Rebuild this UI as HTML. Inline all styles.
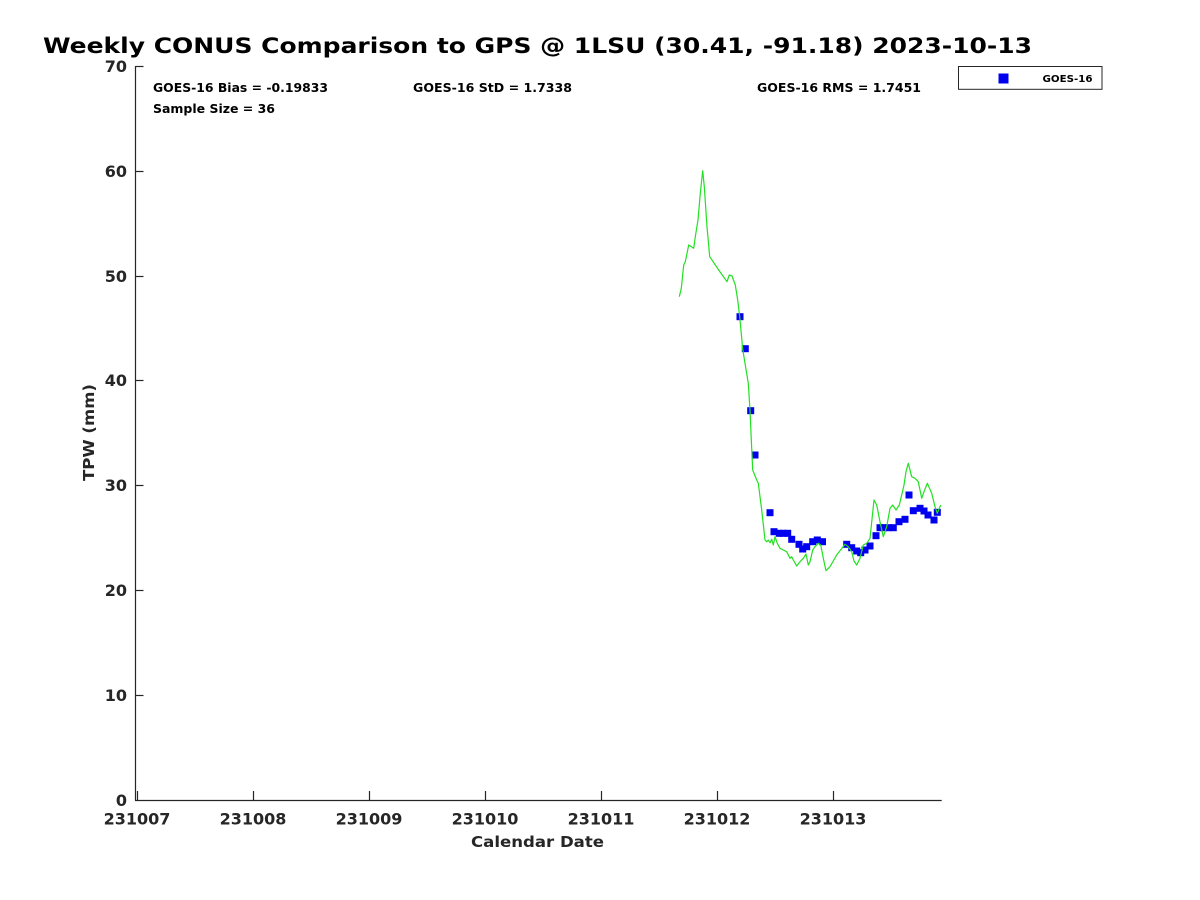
<!DOCTYPE html>
<html>
<head>
<meta charset="utf-8">
<style>
  html, body { margin: 0; padding: 0; background: #ffffff; }
  svg { display: block; }
  text { font-family: "DejaVu Sans", "Liberation Sans", sans-serif; font-weight: bold; }
</style>
</head>
<body>
<svg width="1200" height="900" viewBox="0 0 1200 900" xmlns="http://www.w3.org/2000/svg">
  <rect x="0" y="0" width="1200" height="900" fill="#ffffff"/>

  <!-- Title -->
  <text x="43" y="53" font-size="21.5" fill="#000000" textLength="989" lengthAdjust="spacingAndGlyphs">Weekly CONUS Comparison to GPS @ 1LSU (30.41, -91.18) 2023-10-13</text>

  <!-- Axes -->
  <g stroke="#262626" stroke-width="1.2" fill="none">
    <line x1="135.5" y1="66" x2="135.5" y2="800.5"/>
    <line x1="135" y1="800.5" x2="941.7" y2="800.5"/>
    <!-- y ticks -->
    <line x1="135.5" y1="66.5" x2="143.5" y2="66.5"/>
    <line x1="135.5" y1="171.5" x2="143.5" y2="171.5"/>
    <line x1="135.5" y1="276.5" x2="143.5" y2="276.5"/>
    <line x1="135.5" y1="380.5" x2="143.5" y2="380.5"/>
    <line x1="135.5" y1="485.5" x2="143.5" y2="485.5"/>
    <line x1="135.5" y1="590.5" x2="143.5" y2="590.5"/>
    <line x1="135.5" y1="695.5" x2="143.5" y2="695.5"/>
    <!-- x ticks -->
    <line x1="137.5" y1="800" x2="137.5" y2="791"/>
    <line x1="253.5" y1="800" x2="253.5" y2="791"/>
    <line x1="369.5" y1="800" x2="369.5" y2="791"/>
    <line x1="485.5" y1="800" x2="485.5" y2="791"/>
    <line x1="601.5" y1="800" x2="601.5" y2="791"/>
    <line x1="717.5" y1="800" x2="717.5" y2="791"/>
    <line x1="833.5" y1="800" x2="833.5" y2="791"/>
  </g>

  <!-- Y tick labels -->
  <g font-size="16" fill="#262626" text-anchor="end">
    <text x="127" y="72">70</text>
    <text x="127" y="177">60</text>
    <text x="127" y="282">50</text>
    <text x="127" y="386">40</text>
    <text x="127" y="491">30</text>
    <text x="127" y="596">20</text>
    <text x="127" y="701">10</text>
    <text x="127" y="806">0</text>
  </g>

  <!-- X tick labels -->
  <g font-size="16" fill="#262626" text-anchor="middle">
    <text x="137" y="824.5">231007</text>
    <text x="253" y="824.5">231008</text>
    <text x="369" y="824.5">231009</text>
    <text x="485" y="824.5">231010</text>
    <text x="601" y="824.5">231011</text>
    <text x="717" y="824.5">231012</text>
    <text x="833" y="824.5">231013</text>
  </g>

  <!-- Axis labels -->
  <text x="471" y="847" font-size="15" fill="#262626" textLength="133" lengthAdjust="spacingAndGlyphs">Calendar Date</text>
  <text transform="translate(94,481) rotate(-90)" font-size="15.5" fill="#262626" textLength="97" lengthAdjust="spacingAndGlyphs">TPW (mm)</text>

  <!-- Stats -->
  <g font-size="12.2" fill="#000000">
    <text x="153" y="92" textLength="175" lengthAdjust="spacingAndGlyphs">GOES-16 Bias = -0.19833</text>
    <text x="153" y="113" textLength="122" lengthAdjust="spacingAndGlyphs">Sample Size = 36</text>
    <text x="413" y="92" textLength="159" lengthAdjust="spacingAndGlyphs">GOES-16 StD = 1.7338</text>
    <text x="757" y="92" textLength="164" lengthAdjust="spacingAndGlyphs">GOES-16 RMS = 1.7451</text>
  </g>

  <!-- Legend -->
  <rect x="958.5" y="66.5" width="143.5" height="22.8" fill="#ffffff" stroke="#262626" stroke-width="1"/>
  <rect x="998.5" y="73.5" width="10" height="10" fill="#0000ee"/>
  <text x="1042.5" y="82" font-size="9.8" fill="#000000" textLength="50" lengthAdjust="spacingAndGlyphs">GOES-16</text>

  <!-- Blue markers -->
  <g fill="#0000ee">
    <rect x="736.5" y="313.2" width="7" height="7"/>
    <rect x="741.8" y="345.2" width="7" height="7"/>
    <rect x="747.2" y="407.2" width="7" height="7"/>
    <rect x="751.5" y="451.5" width="7" height="7"/>
    <rect x="766.5" y="509.2" width="7" height="7"/>
    <rect x="770.5" y="528.2" width="7" height="7"/>
    <rect x="775.8" y="529.8" width="7" height="7"/>
    <rect x="779.8" y="529.8" width="7" height="7"/>
    <rect x="784.2" y="529.8" width="7" height="7"/>
    <rect x="788.2" y="535.8" width="7" height="7"/>
    <rect x="795.5" y="540.8" width="7" height="7"/>
    <rect x="799.2" y="545.5" width="7" height="7"/>
    <rect x="803.2" y="543.2" width="7" height="7"/>
    <rect x="809.2" y="538.2" width="7" height="7"/>
    <rect x="813.8" y="536.5" width="7" height="7"/>
    <rect x="819.0" y="538.2" width="7" height="7"/>
    <rect x="843.2" y="540.8" width="7" height="7"/>
    <rect x="848.2" y="544.2" width="7" height="7"/>
    <rect x="853.2" y="547.5" width="7" height="7"/>
    <rect x="857.2" y="549.2" width="7" height="7"/>
    <rect x="861.5" y="546.5" width="7" height="7"/>
    <rect x="866.5" y="542.5" width="7" height="7"/>
    <rect x="872.5" y="532.2" width="7" height="7"/>
    <rect x="876.5" y="524.2" width="7" height="7"/>
    <rect x="880.5" y="524.2" width="7" height="7"/>
    <rect x="884.8" y="524.2" width="7" height="7"/>
    <rect x="889.8" y="524.2" width="7" height="7"/>
    <rect x="895.5" y="518.2" width="7" height="7"/>
    <rect x="901.5" y="515.8" width="7" height="7"/>
    <rect x="905.5" y="491.5" width="7" height="7"/>
    <rect x="909.8" y="507.2" width="7" height="7"/>
    <rect x="916.5" y="504.8" width="7" height="7"/>
    <rect x="920.5" y="507.5" width="7" height="7"/>
    <rect x="924.5" y="511.5" width="7" height="7"/>
    <rect x="930.5" y="516.5" width="7" height="7"/>
    <rect x="933.8" y="508.8" width="7" height="7"/>
  </g>

  <!-- Green line -->
  <polyline fill="none" stroke="#22e022" stroke-width="1.2" stroke-linejoin="round" points="
    679.3,296.7 681.3,288.3 683.7,265 685.3,261.7 688.7,245 690.3,246 693.7,248.3 695.3,236.7
    698,220 700.3,193.3 702.7,170.7 704.3,186.7 707,226.7 709.7,256.7 718.7,270 727,281.7
    729.3,275 732,276 735.3,285 737.7,300 739.7,316.7 742.7,349 745,363.3 748.3,383.3
    750,410 751,433.3 752.7,470 756.7,480 758.3,483.3 761.7,510 765,540 766.7,541.7
    768.3,540 770,542.7 771.7,539.3 773.3,545 775,536.7 777.3,543.3 780,548.3 783.3,550
    786.7,551.7 790,558.3 791.7,556.7 793.3,560 796.7,566 800,561.7 803.3,558.3 806,554
    808.3,565 810,561.7 812.7,550 815,546.7 818.3,543.3 820.7,545 823.3,558.3 826,570.7
    830,566.7 836.7,555 845,544.3 848.3,546.7 851.7,551.7 854,561 856.7,565 860,558.3
    863.3,545 866.7,543.3 870,538.3 874,500 876.7,505 880,521.7 883.3,536.7 886.7,526.7
    890,508.3 892.7,505 896,510 899.3,505 901.7,495 904,485 906,471.7 908.3,463.3
    911.7,476.7 915,478.3 918.3,481.7 921.7,498.3 924,491.7 927.3,483.3 931.7,493.3 935,506.7
    937.3,513.3 940.7,505"/>
</svg>
</body>
</html>
